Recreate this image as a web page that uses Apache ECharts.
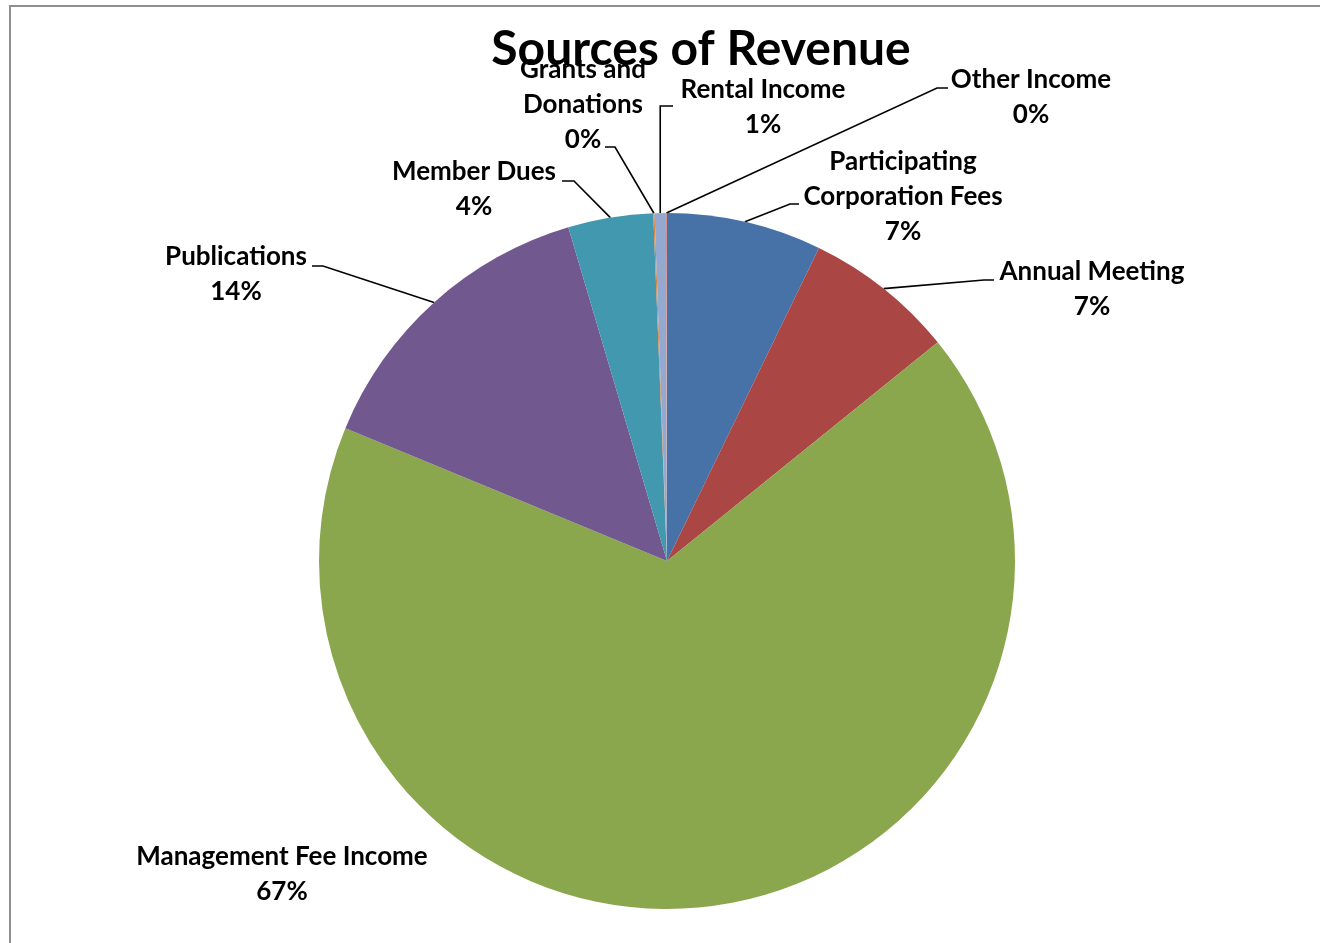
<!DOCTYPE html>
<html>
<head>
<meta charset="utf-8">
<script src="https://cdn.jsdelivr.net/npm/echarts@6/dist/echarts.min.js"></script>
<style>
  html, body { margin: 0; padding: 0; background: #fff; }
  #chart { position: absolute; left: 0; top: 0; width: 1320px; height: 943px; }
  #frame { position: absolute; left: 9px; top: 5px; width: 1400px; height: 1000px;
           border-left: 2px solid #8f8f8f; border-top: 2px solid #8f8f8f; pointer-events: none; }
</style>
</head>
<body>
<div id="chart"></div>
<div id="frame"></div>
<script>
// ---- data ----
const categories = [
  'Participating Corporation Fees',
  'Annual Meeting',
  'Management Fee Income',
  'Publications',
  'Member Dues',
  'Grants and Donations',
  'Rental Income',
  'Other Income'
];
const revenueShare = [7.2, 7.0, 67.1, 14.2, 3.95, 0.06, 0.52, 0.05];

// ---- styling / layout (not data) ----
const colors = ['#4672A7', '#AA4644', '#8AA74E', '#71588F', '#4298AF', '#DB843D', '#93A9CF', '#D19392'];
const labelBreaks = {
  'Participating Corporation Fees': 'Participating\nCorporation Fees',
  'Grants and Donations': 'Grants and\nDonations'
};
// label anchor (center of text block), leader elbow and end points in px
const labelLayoutCfg = [
  { x: 903,  y: 197,   elbow: [790, 204], end: [799, 204] },
  { x: 1092, y: 289.5, elbow: [984, 280], end: [994, 280] },
  { x: 282,  y: 874.5, noLine: true },
  { x: 236,  y: 274.5, elbow: [323, 266], end: [312, 266] },
  { x: 474,  y: 189.5, elbow: [574, 181], end: [562, 181] },
  { x: 583,  y: 105,   elbow: [615, 147], end: [605, 147] },
  { x: 763,  y: 107.5, vertical: true, elbowY: 106, end: [673, 106] },
  { x: 1031, y: 97.5,  elbow: [937, 88],  end: [948, 88] }
];
const CENTER = [667, 561];
const RADIUS = 348;

const total = revenueShare.reduce((a, b) => a + b, 0);

const chart = echarts.init(document.getElementById('chart'), null, { renderer: 'canvas' });

const data = categories.map((name, i) => ({
  name: name,
  value: revenueShare[i],
  itemStyle: { color: colors[i] },
  labelLine: { show: !labelLayoutCfg[i].noLine }
}));

chart.setOption({
  animation: false,
  backgroundColor: '#ffffff',
  title: {
    text: 'Sources of Revenue',
    left: 696,
    textAlign: 'center',
    top: 21,
    textStyle: { fontFamily: 'Lato', fontWeight: 'bold', fontSize: 48, color: '#000' }
  },
  series: [{
    type: 'pie',
    center: CENTER,
    radius: RADIUS,
    startAngle: 90,
    clockwise: true,
    avoidLabelOverlap: false,
    minShowLabelAngle: 0,
    itemStyle: { borderWidth: 0 },
    emphasis: { disabled: true },
    label: {
      show: true,
      position: 'outside',
      fontFamily: 'Lato',
      fontWeight: 'bold',
      fontSize: 26,
      lineHeight: 35,
      color: '#000',
      align: 'center',
      formatter: function (p) {
        const pct = Math.round(p.value / total * 100);
        const nm = labelBreaks[p.name] || p.name;
        return nm + '\n' + pct + '%';
      }
    },
    labelLine: {
      show: true,
      length: 10,
      length2: 10,
      smooth: false,
      lineStyle: { color: '#000', width: 1.6 }
    },
    labelLayout: function (params) {
      const cfg = labelLayoutCfg[params.dataIndex];
      const out = { x: cfg.x, y: cfg.y, align: 'center', verticalAlign: 'middle', hideOverlap: false, moveOverlap: null };
      if (!cfg.noLine) {
        const start = params.labelLinePoints[0];
        if (cfg.vertical) {
          out.labelLinePoints = [start, [start[0], cfg.elbowY], cfg.end];
        } else {
          out.labelLinePoints = [start, cfg.elbow, cfg.end];
        }
      }
      return out;
    },
    data: data
  }]
});
</script>
</body>
</html>
